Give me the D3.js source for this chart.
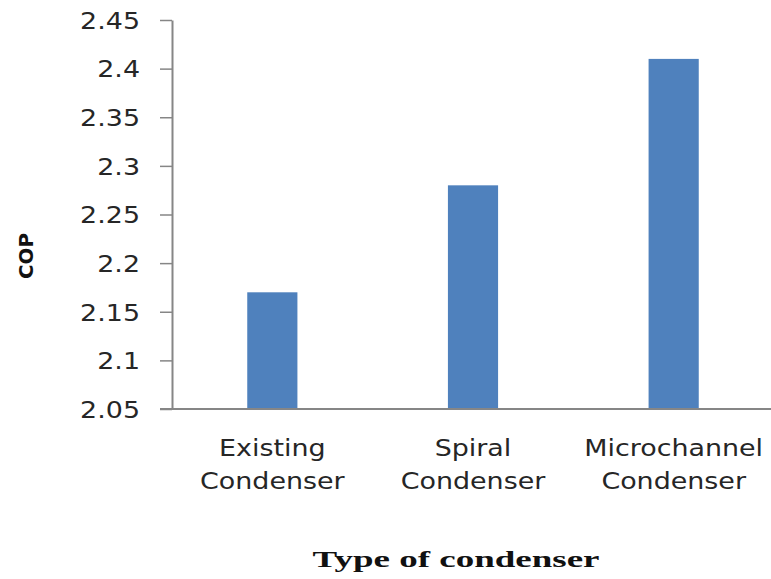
<!DOCTYPE html>
<html>
<head>
<meta charset="utf-8">
<script src="https://cdn.jsdelivr.net/npm/d3@7"></script>
<style>
  body { margin: 0; background: #fff; }
  svg { display: block; }
</style>
</head>
<body>
<div id="chart"></div>
<script>
// data
const categories = [["Existing", "Condenser"], ["Spiral", "Condenser"], ["Microchannel", "Condenser"]];
const copValues = [2.17, 2.28, 2.41];
const yTicks = [2.05, 2.1, 2.15, 2.2, 2.25, 2.3, 2.35, 2.4, 2.45];

const width = 771;
const height = 579;
const plotLeft = 172, plotRight = 774, plotTop = 20, plotBottom = 409;
const stretch = 1.17; // text in the picture is drawn a bit wide

const svg = d3.select("#chart").append("svg")
  .attr("width", width)
  .attr("height", height);

const x = d3.scaleBand()
  .domain(categories.map((d, i) => i))
  .range([plotLeft, plotRight])
  .paddingInner(0.75)
  .paddingOuter(0.375);

const y = d3.scaleLinear()
  .domain([2.05, 2.45])
  .range([plotBottom, plotTop]);

// bars
svg.selectAll("rect.bar")
  .data(copValues)
  .join("rect")
  .attr("class", "bar")
  .attr("x", (d, i) => x(i))
  .attr("width", x.bandwidth())
  .attr("y", d => y(d))
  .attr("height", d => y(2.05) - y(d))
  .attr("fill", "#4f81bd");

// y axis
const yAxis = svg.append("g")
  .attr("transform", `translate(${plotLeft},0)`)
  .call(d3.axisLeft(y).tickValues(yTicks).tickSize(12).tickSizeOuter(0)
    .tickFormat(d => String(+d.toFixed(2))));
yAxis.select(".domain").attr("stroke", "#868686").attr("stroke-width", 2);
yAxis.selectAll(".tick line").attr("stroke", "#868686").attr("stroke-width", 1.5);
yAxis.selectAll(".tick text")
  .attr("x", 0)
  .attr("dy", "0.36em")
  .attr("transform", `translate(-32,0) scale(${stretch},1)`)
  .attr("font-family", "DejaVu Sans")
  .attr("font-size", 23)
  .attr("fill", "#262626");

// x axis line
svg.append("line")
  .attr("x1", plotLeft - 12).attr("x2", plotRight)
  .attr("y1", plotBottom).attr("y2", plotBottom)
  .attr("stroke", "#868686")
  .attr("stroke-width", 2);

// category labels, two lines each
svg.selectAll("g.cat")
  .data(categories)
  .join("g")
  .attr("class", "cat")
  .each(function (lines, i) {
    const cx = x(i) + x.bandwidth() / 2;
    lines.forEach((line, j) => {
      d3.select(this).append("text")
        .attr("transform", `translate(${cx},${456 + j * 33}) scale(${stretch},1)`)
        .attr("text-anchor", "middle")
        .attr("font-family", "DejaVu Sans")
        .attr("font-size", 23)
        .attr("fill", "#262626")
        .text(line);
    });
  });

// axis titles
svg.append("text")
  .attr("x", 456).attr("y", 567)
  .attr("text-anchor", "middle")
  .attr("font-family", "Liberation Serif")
  .attr("font-weight", "bold")
  .attr("font-size", 23)
  .attr("textLength", 287)
  .attr("lengthAdjust", "spacingAndGlyphs")
  .attr("fill", "#111")
  .text("Type of condenser");

svg.append("text")
  .attr("transform", "translate(33,256) rotate(-90)")
  .attr("text-anchor", "middle")
  .attr("font-family", "DejaVu Sans")
  .attr("font-weight", "bold")
  .attr("font-size", 20)
  .attr("textLength", 46)
  .attr("lengthAdjust", "spacingAndGlyphs")
  .attr("fill", "#111")
  .text("COP");
</script>
</body>
</html>
